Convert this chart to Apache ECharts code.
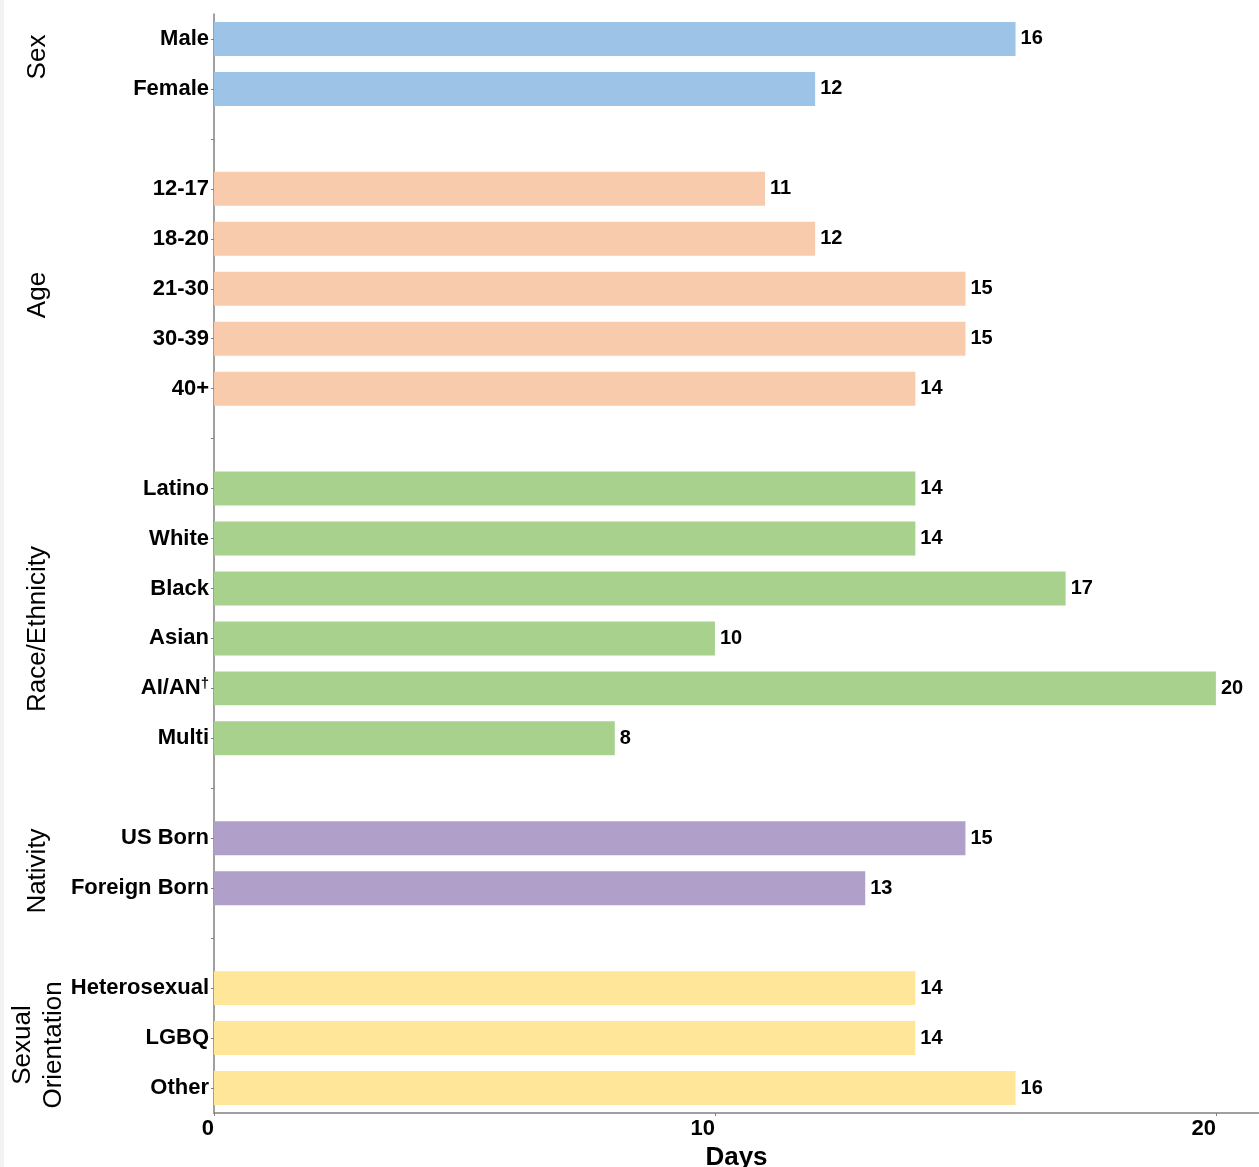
<!DOCTYPE html>
<html>
<head>
<meta charset="utf-8">
<script src="https://cdn.jsdelivr.net/npm/echarts@6/dist/echarts.min.js"></script>
<style>
html,body{margin:0;padding:0;background:#fff;}
#chart{width:1259px;height:1167px;}
</style>
</head>
<body>
<div id="chart"></div>
<script>
// ---- data ----
const sexCats = ['Male', 'Female'];
const sexVals = [16, 12];
const ageCats = ['12-17', '18-20', '21-30', '30-39', '40+'];
const ageVals = [11, 12, 15, 15, 14];
const raceCats = ['Latino', 'White', 'Black', 'Asian', 'AI/AN\u2020', 'Multi'];
const raceVals = [14, 14, 17, 10, 20, 8];
const nativityCats = ['US Born', 'Foreign Born'];
const nativityVals = [15, 13];
const orientCats = ['Heterosexual', 'LGBQ', 'Other'];
const orientVals = [14, 14, 16];
const groupNames = ['Sex', 'Age', 'Race/Ethnicity', 'Nativity', 'Sexual\nOrientation'];
const groupColors = ['#9DC3E6', '#F8CBAD', '#A9D18E', '#B09FC9', '#FFE699'];
const xTicks = [0, 10, 20];

const groups = [
  [sexCats, sexVals],
  [ageCats, ageVals],
  [raceCats, raceVals],
  [nativityCats, nativityVals],
  [orientCats, orientVals]
];

const categories = [];
const seriesData = [];
groups.forEach(([cats, vals], gi) => {
  if (gi > 0) {
    categories.push('gap' + gi);
    seriesData.push({ value: null });
  }
  cats.forEach((c, i) => {
    categories.push(c);
    seriesData.push({ value: vals[i], itemStyle: { color: groupColors[gi] } });
  });
});

const FONT = '"Liberation Sans", Arial, sans-serif';
const chart = echarts.init(document.getElementById('chart'), null, { renderer: 'canvas' });

// group label positions (annotation text)
const groupLabelPos = [[38, 57], [38, 295], [38, 629], [38, 871], [38, 1045]];

const option = {
  backgroundColor: '#ffffff',
  animation: false,
  textStyle: { fontFamily: FONT },
  grid: { left: 214, right: 0, top: 14, bottom: 54, containLabel: false, outerBoundsMode: 'none' },
  xAxis: {
    type: 'value',
    min: 0,
    max: 20.86,
    interval: 10,
    name: 'Days',
    nameLocation: 'middle',
    nameGap: 31,
    nameTextStyle: { fontFamily: FONT, fontSize: 26, fontWeight: 'bold', color: '#000' },
    axisLine: { show: true, lineStyle: { color: '#808080', width: 1.5 } },
    axisTick: { show: true, length: 3, lineStyle: { color: '#808080' } },
    splitLine: { show: false },
    axisLabel: {
      fontFamily: FONT, fontSize: 22, fontWeight: 'bold', color: '#000',
      align: 'right', margin: 5,
      showMaxLabel: false,
      formatter: v => (xTicks.indexOf(v) >= 0 ? String(v) : '')
    }
  },
  yAxis: {
    type: 'category',
    inverse: true,
    data: categories,
    axisLine: { show: true, lineStyle: { color: '#808080', width: 1.5 } },
    axisTick: { show: true, length: 3, alignWithLabel: true, lineStyle: { color: '#808080' } },
    axisLabel: {
      interval: 0,
      margin: 5,
      fontFamily: FONT, fontSize: 22, fontWeight: 'bold', color: '#000',
      formatter: v => {
        if (v.indexOf('gap') === 0) return '';
        if (v === 'AI/AN\u2020') return 'AI/AN{sup|\u2020}';
        return v;
      },
      rich: {
        sup: { fontFamily: FONT, fontSize: 15, fontWeight: 'bold', color: '#000', padding: [0, 0, 10, 0] }
      }
    }
  },
  series: [{
    type: 'bar',
    data: seriesData,
    barCategoryGap: '32%',
    label: {
      show: true,
      position: 'right',
      distance: 5,
      fontFamily: FONT, fontSize: 20, fontWeight: 'bold', color: '#000'
    }
  }],
  graphic: [
    { type: 'rect', left: 0, top: 0, shape: { width: 4, height: 1167 }, style: { fill: '#f2f2f2' }, silent: true }
  ].concat(groupNames.map((g, i) => ({
    type: 'text',
    x: groupLabelPos[i][0],
    y: groupLabelPos[i][1],
    rotation: Math.PI / 2,
    style: {
      text: g,
      fontFamily: FONT,
      fontSize: 26,
      fill: '#000',
      align: 'center',
      verticalAlign: 'middle',
      lineHeight: 31
    }
  })))
};
chart.setOption(option);
</script>
</body>
</html>
